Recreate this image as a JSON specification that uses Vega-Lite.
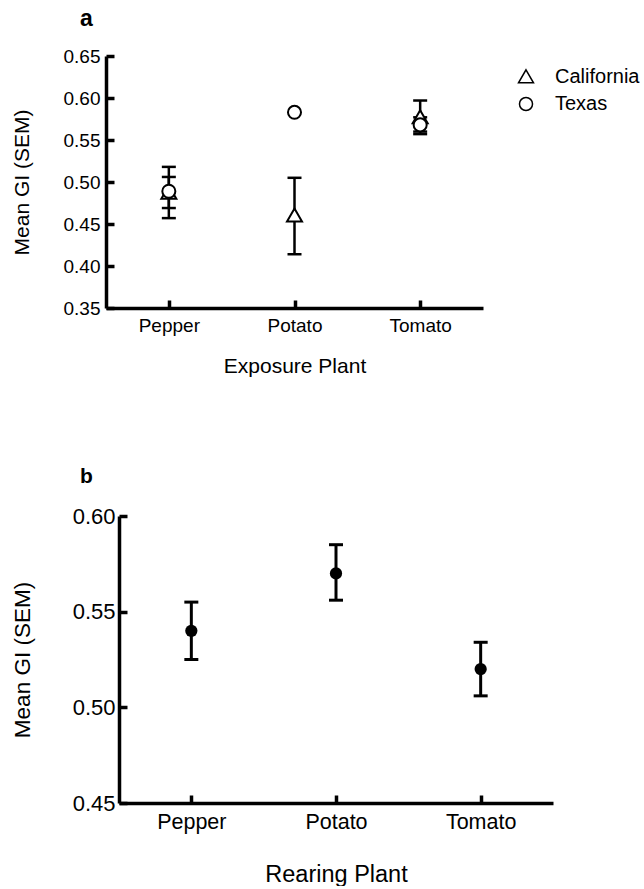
{
  "$schema": "https://vega.github.io/schema/vega-lite/v6.json",
  "background": "white",
  "padding": {"left": 11, "top": 8, "right": 0, "bottom": 0},
  "config": {
    "view": {"stroke": null},
    "font": "Liberation Sans",
    "axis": {
      "grid": false,
      "domainColor": "black",
      "domainWidth": 3.5,
      "tickColor": "black",
      "tickWidth": 3.5,
      "tickSize": -8,
      "labelColor": "black",
      "titleColor": "black",
      "titleFontWeight": "normal",
      "labelFont": "Liberation Sans",
      "titleFont": "Liberation Sans"
    },
    "title": {"fontWeight": "bold", "anchor": "start", "color": "black", "font": "Liberation Sans"}
  },
  "datasets": {
    "groups": [
      {"plant": "Pepper", "population": "California", "mean": 0.487, "lo": 0.457, "hi": 0.518},
      {"plant": "Pepper", "population": "Texas", "mean": 0.489, "lo": 0.469, "hi": 0.506},
      {"plant": "Potato", "population": "California", "mean": 0.460, "lo": 0.414, "hi": 0.505},
      {"plant": "Potato", "population": "Texas", "mean": 0.583, "lo": null, "hi": null},
      {"plant": "Tomato", "population": "California", "mean": 0.577, "lo": 0.557, "hi": 0.597},
      {"plant": "Tomato", "population": "Texas", "mean": 0.568, "lo": 0.560, "hi": 0.577}
    ],
    "rearing": [
      {"plant": "Pepper", "mean": 0.540, "lo": 0.525, "hi": 0.555},
      {"plant": "Potato", "mean": 0.570, "lo": 0.556, "hi": 0.585},
      {"plant": "Tomato", "mean": 0.520, "lo": 0.506, "hi": 0.534}
    ]
  },
  "spacing": 90,
  "vconcat": [
    {
      "width": 377,
      "height": 252,
      "title": {"text": "a", "fontSize": 23, "dx": -26, "frame": "group", "offset": 16},
      "data": {"name": "groups"},
      "encoding": {
        "x": {
          "field": "plant", "type": "nominal",
          "scale": {"type": "point", "padding": 0.5},
          "axis": {"title": "Exposure Plant", "labelAngle": 0, "labelFontSize": 19, "titleFontSize": 21, "labelPadding": 16, "titlePadding": 20}
        }
      },
      "layer": [
        {
          "transform": [{"filter": "isValid(datum.lo)"}],
          "mark": {"type": "rule", "color": "black", "strokeWidth": 2.5},
          "encoding": {
            "y": {"field": "lo", "type": "quantitative", "title": "Mean GI (SEM)", "scale": {"domain": [0.35, 0.65], "nice": false, "zero": false}},
            "y2": {"field": "hi"}
          }
        },
        {
          "transform": [{"filter": "isValid(datum.lo)"}],
          "mark": {"type": "tick", "orient": "horizontal", "color": "black", "size": 14, "thickness": 2.5, "opacity": 1},
          "encoding": {
            "y": {"field": "lo", "type": "quantitative", "title": "Mean GI (SEM)", "scale": {"domain": [0.35, 0.65], "nice": false, "zero": false}}
          }
        },
        {
          "transform": [{"filter": "isValid(datum.hi)"}],
          "mark": {"type": "tick", "orient": "horizontal", "color": "black", "size": 14, "thickness": 2.5, "opacity": 1},
          "encoding": {
            "y": {"field": "hi", "type": "quantitative", "title": "Mean GI (SEM)", "scale": {"domain": [0.35, 0.65], "nice": false, "zero": false}}
          }
        },
        {
          "mark": {"type": "point", "color": "black", "fill": "white", "stroke": "black", "strokeWidth": 2, "size": 170, "opacity": 1, "fillOpacity": 1},
          "encoding": {
            "y": {
              "field": "mean", "type": "quantitative", "title": "Mean GI (SEM)",
              "scale": {"domain": [0.35, 0.65], "nice": false, "zero": false},
              "axis": {"values": [0.35, 0.4, 0.45, 0.5, 0.55, 0.6, 0.65], "format": ".2f", "labelFontSize": 19, "titleFontSize": 21, "labelPadding": 14, "titlePadding": 31}
            },
            "shape": {
              "field": "population", "type": "nominal",
              "scale": {"domain": ["California", "Texas"], "range": ["M0,-1.1L1.15,0.9L-1.15,0.9Z", "circle"]},
              "legend": {
                "title": null, "orient": "none", "legendX": 410, "legendY": 11, "padding": 0,
                "labelFontSize": 20, "labelColor": "black", "labelOffset": 19, "rowPadding": 7, "symbolSize": 170,
                "encode": {"symbols": {"update": {"fill": {"value": "white"}, "stroke": {"value": "black"}, "strokeWidth": {"value": 2.5}, "opacity": {"value": 1}}}}
              }
            }
          }
        }
      ]
    },
    {
      "width": 447,
      "height": 287,
      "title": {"text": "b", "fontSize": 21, "dx": -26, "frame": "group", "offset": 18},
      "data": {"name": "rearing"},
      "encoding": {
        "x": {
          "field": "plant", "type": "nominal",
          "scale": {"type": "point", "padding": 0.5, "range": [13, 447]},
          "axis": {"title": "Rearing Plant", "labelAngle": 0, "labelFontSize": 21.5, "titleFontSize": 23.5, "labelPadding": 16, "titlePadding": 30}
        }
      },
      "layer": [
        {
          "mark": {"type": "rule", "color": "black", "strokeWidth": 3},
          "encoding": {
            "y": {"field": "lo", "type": "quantitative", "title": "Mean GI (SEM)", "scale": {"domain": [0.45, 0.6], "nice": false, "zero": false}},
            "y2": {"field": "hi"}
          }
        },
        {
          "mark": {"type": "tick", "orient": "horizontal", "color": "black", "size": 14, "thickness": 3, "opacity": 1},
          "encoding": {
            "y": {"field": "lo", "type": "quantitative", "title": "Mean GI (SEM)", "scale": {"domain": [0.45, 0.6], "nice": false, "zero": false}}
          }
        },
        {
          "mark": {"type": "tick", "orient": "horizontal", "color": "black", "size": 14, "thickness": 3, "opacity": 1},
          "encoding": {
            "y": {"field": "hi", "type": "quantitative", "title": "Mean GI (SEM)", "scale": {"domain": [0.45, 0.6], "nice": false, "zero": false}}
          }
        },
        {
          "mark": {"type": "point", "filled": true, "color": "black", "size": 150, "opacity": 1},
          "encoding": {
            "y": {
              "field": "mean", "type": "quantitative", "title": "Mean GI (SEM)",
              "scale": {"domain": [0.45, 0.6], "nice": false, "zero": false},
              "axis": {"values": [0.45, 0.5, 0.55, 0.6], "format": ".2f", "offset": -13, "labelFontSize": 22, "titleFontSize": 22.5, "labelPadding": 12, "titlePadding": 38}
            }
          }
        }
      ]
    }
  ]
}
